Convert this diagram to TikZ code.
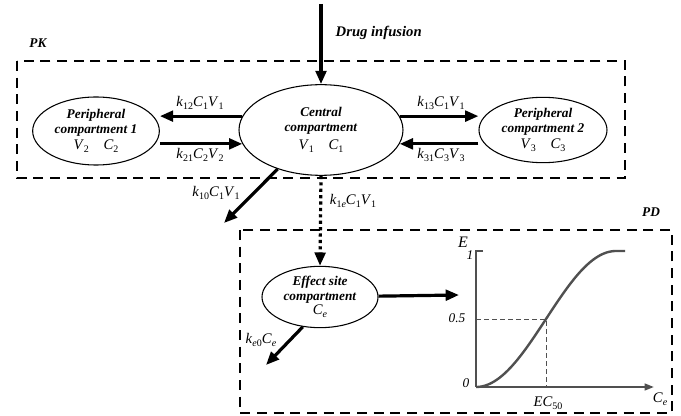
\documentclass[tikz,border=0pt]{standalone}
\usepackage{fontspec}
\usepackage{amsmath}
\setmainfont{Liberation Serif}
\usetikzlibrary{shapes.geometric,arrows.meta}

\definecolor{curvegray}{HTML}{505050}
% italic letter with a lowered index, Times style
\newcommand\vsub[2]{\textit{#1}\raisebox{-0.45ex}{\fontsize{7.5}{8}\selectfont #2}}

\begin{document}
\begin{tikzpicture}[x=0.75pt,y=-0.75pt,
        every node/.style={font=\fontsize{10}{11}\selectfont},
        comp/.style={draw,ellipse,thick,inner sep=0pt,align=center},
        title/.style={font=\fontsize{10}{12}\selectfont\bfseries\itshape},
        rate/.style={font=\fontsize{11}{12}\selectfont},
        frame/.style={line width=1.8pt,dash pattern=on 7.5pt off 5pt},
        flow/.style={line width=2.4pt,-{Triangle[length=10pt,width=8pt]}},
        axis/.style={curvegray,line width=1.5pt}]
    \useasboundingbox (0,0) rectangle (681,416);

    % PK and PD frames
    \draw[frame] (17,61) rectangle (625,178);
    \draw[frame] (240,230) rectangle (672,413);
    \node[title] (pk) at (38,43) {PK};
    \node[title] (pd) at (651,212) {PD};

    % compartments
    \node[comp,minimum width=123pt,minimum height=68pt] (central) at (321,130) {
        \textbf{\textit{Central}}\\\textbf{\textit{compartment}}\\[3pt]{\fontsize{11}{12}\selectfont\vsub{V}{1}\quad\vsub{C}{1}}};
    \node[comp,minimum width=95pt,minimum height=51pt] (peri1) at (96,131) {
        \textbf{\textit{Peripheral}}\\\textbf{\textit{compartment 1}}\\[1pt]{\fontsize{11}{12}\selectfont\vsub{V}{2}\quad\vsub{C}{2}}};
    \node[comp,minimum width=96pt,minimum height=49pt] (peri2) at (543,130) {
        \textbf{\textit{Peripheral}}\\\textbf{\textit{compartment 2}}\\[1pt]{\fontsize{11}{12}\selectfont\vsub{V}{3}\quad\vsub{C}{3}}};
    \node[comp,minimum width=87pt,minimum height=46pt] (effect) at (320,297) {
        \textbf{\textit{Effect site}}\\\textbf{\textit{compartment}}\\{\fontsize{11}{12}\selectfont\vsub{C}{\textit{e}}}};

    % infusion and transfers
    \coordinate (infusion) at (321,4);
    \draw[flow] (infusion) -- (central);
    \node[title,font=\fontsize{11}{12}\selectfont\bfseries\itshape,anchor=west] (druglbl) at (331,33) {Drug infusion};

    \draw[flow] (central.170) -- (central.170 -| peri1.east);
    \draw[flow] (peri1.east |- central.190) -- (central.190);
    \node[rate] (k12) at (200,103) {\vsub{k}{12}\vsub{C}{1}\vsub{V}{1}};
    \node[rate] (k21) at (200,155) {\vsub{k}{21}\vsub{C}{2}\vsub{V}{2}};

    \draw[flow] (central.10) -- (central.10 -| peri2.west);
    \draw[flow] (peri2.west |- central.350) -- (central.350);
    \node[rate] (k13) at (441,103) {\vsub{k}{13}\vsub{C}{1}\vsub{V}{1}};
    \node[rate] (k31) at (441,155) {\vsub{k}{31}\vsub{C}{3}\vsub{V}{3}};

    \coordinate (elim1) at (224,223);
    \draw[flow] (central.222) -- (elim1);
    \node[rate] (k10) at (216,193) {\vsub{k}{10}\vsub{C}{1}\vsub{V}{1}};

    \draw[flow,dash pattern=on 2.4pt off 2.4pt] (central.south) -- (effect.north);
    \node[rate] (k1e) at (353,201) {\vsub{k}{1\textit{e}}\vsub{C}{1}\vsub{V}{1}};

    \coordinate (elim2) at (266,365);
    \draw[flow] (effect.240) -- (elim2);
    \node[rate] (ke0) at (261,340) {\vsub{k}{\textit{e}0}\vsub{C}{\textit{e}}};

    \coordinate (plotin) at (459,295);
    \draw[flow] (effect) -- (plotin);

    % effect curve
    \coordinate (origin) at (476,387);
    \coordinate (ytop) at (476,251);
    \coordinate (xend) at (654,387);
    \draw[axis] (483,251) -- (ytop) -- (origin);
    \draw[axis,-{Triangle[length=7pt,width=5pt]}] (origin) -- (xend);
    \draw[curvegray,thin,dash pattern=on 4pt off 2pt] (476,319) -- (546,319) -- (546,387);
    \draw[curvegray,line width=1.8pt,domain=0:140,samples=80,smooth]
        plot ({476+\x},{387-68*(1-cos(\x*9/7))}) -- (625,251);

    \node[font=\fontsize{12}{12}\selectfont\itshape] (elbl) at (463,242) {E};
    \node[font=\fontsize{10}{12}\selectfont\itshape] (one) at (470,255) {1};
    \node[font=\fontsize{10}{12}\selectfont\itshape] (half) at (457,318) {0.5};
    \node[font=\fontsize{10}{12}\selectfont\itshape] (zero) at (466,383) {0};
    \node[rate] (ec50) at (548,403) {\textit{E}\vsub{C}{50}};
    \node[rate] (celbl) at (660,399) {\vsub{C}{\textit{e}}};
\end{tikzpicture}
\end{document}
